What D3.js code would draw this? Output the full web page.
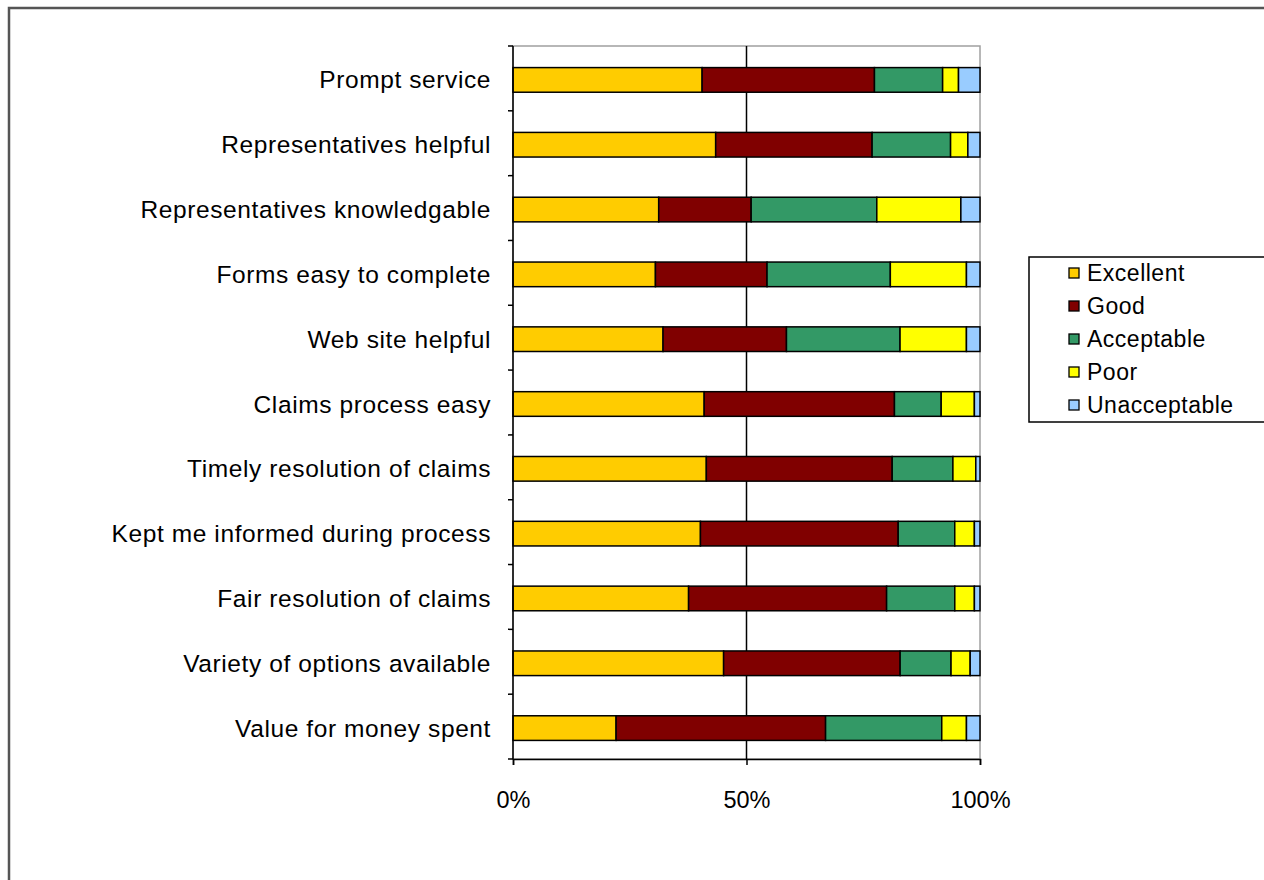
<!DOCTYPE html>
<html>
<head>
<meta charset="utf-8">
<title>Customer satisfaction ratings</title>
<script src="https://cdn.jsdelivr.net/npm/d3@7/dist/d3.min.js"></script>
<style>
body { margin:0; background:#fff; font-family:"Liberation Sans", Arial, sans-serif; }
</style>
</head>
<body>
<svg id="chart" width="1264" height="880"></svg>
<script>
// ---- data (share of answers, %) ----
var categories = ["Prompt service","Representatives helpful","Representatives knowledgable",
  "Forms easy to complete","Web site helpful","Claims process easy","Timely resolution of claims",
  "Kept me informed during process","Fair resolution of claims","Variety of options available",
  "Value for money spent"]
var seriesNames = ["Excellent","Good","Acceptable","Poor","Unacceptable"]
var excellent    = [40.5, 43.4, 31.2, 30.5, 32.1, 40.9, 41.4, 40.1, 37.6, 45.1, 22.1]
var good         = [36.9, 33.5, 19.8, 23.9, 26.4, 40.7, 39.8, 42.3, 42.4, 37.8, 44.9]
var acceptable   = [14.6, 16.8, 26.9, 26.4, 24.3, 10.0, 13.0, 12.1, 14.6, 10.9, 24.9]
var poor         = [ 3.4,  3.7, 18.0, 16.3, 14.2,  7.1,  4.9,  4.2,  4.2,  4.1,  5.3]
var unacceptable = [ 4.6,  2.6,  4.1,  2.9,  2.9,  1.2,  0.9,  1.2,  1.2,  2.1,  2.9]
var xTicks = [0, 0.5, 1]

var colors = ["#FFCC00","#800000","#339966","#FFFF00","#99CCFF"]

// build rows for d3.stack
var rows = categories.map(function(c,i){
  return {cat:c, Excellent:excellent[i], Good:good[i], Acceptable:acceptable[i], Poor:poor[i], Unacceptable:unacceptable[i]}
})
var stacked = d3.stack().keys(seriesNames).offset(d3.stackOffsetExpand)(rows)

var svg = d3.select("#chart")

// chart frame
svg.append("rect")
  .attr("x",9).attr("y",8).attr("width",1300).attr("height",900)
  .attr("fill","#fff").attr("stroke","#555").attr("stroke-width",2.5)

var plotLeft=513, plotRight=980, plotTop=46, plotBottom=759

var x = d3.scaleLinear().domain([0,1]).range([plotLeft,plotRight])
var y = d3.scaleBand().domain(categories).range([plotTop,plotBottom])
  .paddingInner(0.62).paddingOuter(0.31)

// plot area border (grey)
svg.append("rect")
  .attr("x",plotLeft).attr("y",plotTop).attr("width",plotRight-plotLeft).attr("height",plotBottom-plotTop)
  .attr("fill","none").attr("stroke","#a0a0a0").attr("stroke-width",1.5)

// 50% gridline
svg.append("line")
  .attr("x1",x(0.5)).attr("x2",x(0.5)).attr("y1",plotTop).attr("y2",plotBottom)
  .attr("stroke","#000").attr("stroke-width",1.5)

// bars
svg.append("g").selectAll("g").data(stacked).join("g")
  .attr("fill",function(d,i){ return colors[i] })
  .selectAll("rect").data(function(d){ return d }).join("rect")
  .attr("x",function(d){ return x(d[0]) })
  .attr("width",function(d){ return x(d[1])-x(d[0]) })
  .attr("y",function(d){ return y(d.data.cat)+1.5 })
  .attr("height",y.bandwidth())
  .attr("stroke","#000").attr("stroke-width",1.5)

// y axis: ticks between categories, labels at band centres
var step = y.step()
var yTickPos = d3.range(categories.length+1).map(function(i){ return plotTop+i*step })
var yAxis = svg.append("g")
yAxis.append("line").attr("x1",plotLeft).attr("x2",plotLeft).attr("y1",plotTop).attr("y2",plotBottom)
  .attr("stroke","#000").attr("stroke-width",1.5)
yAxis.selectAll("line.tk").data(yTickPos).join("line").attr("class","tk")
  .attr("x1",plotLeft-5).attr("x2",plotLeft).attr("y1",function(d){return d}).attr("y2",function(d){return d})
  .attr("stroke","#000").attr("stroke-width",1.5)
yAxis.selectAll("text").data(categories).join("text")
  .attr("x",491).attr("y",function(d){ return y(d)+y.bandwidth()/2+1.5 })
  .attr("dy","0.35em").attr("text-anchor","end")
  .attr("font-size","24.5px").attr("letter-spacing","0.6px").attr("fill","#000")
  .text(function(d){ return d })

// x axis
var xAxis = svg.append("g").attr("transform","translate(0,"+plotBottom+")")
  .call(d3.axisBottom(x).tickValues(xTicks).tickFormat(d3.format(".0%")).tickSize(6).tickPadding(26))
xAxis.select(".domain").attr("stroke","#000").attr("stroke-width",1.5)
xAxis.selectAll(".tick line").attr("stroke","#000").attr("stroke-width",1.5)
xAxis.selectAll("text").attr("font-size","23.5px").attr("font-family","Liberation Sans, Arial, sans-serif").attr("fill","#000")

// legend
var lg = svg.append("g")
lg.append("rect").attr("x",1029).attr("y",257).attr("width",240).attr("height",165)
  .attr("fill","#fff").attr("stroke","#000").attr("stroke-width",1.5)
var li = lg.selectAll("g.item").data(seriesNames).join("g").attr("class","item")
  .attr("transform",function(d,i){ return "translate(1069,"+(273+i*33)+")" })
li.append("rect").attr("x",0).attr("y",-5).attr("width",10).attr("height",10)
  .attr("fill",function(d,i){ return colors[i] }).attr("stroke","#000").attr("stroke-width",1.3)
li.append("text").attr("x",18).attr("dy","0.36em")
  .attr("font-size","23px").attr("letter-spacing","0.5px").attr("fill","#000").text(function(d){ return d })
</script>
</body>
</html>
